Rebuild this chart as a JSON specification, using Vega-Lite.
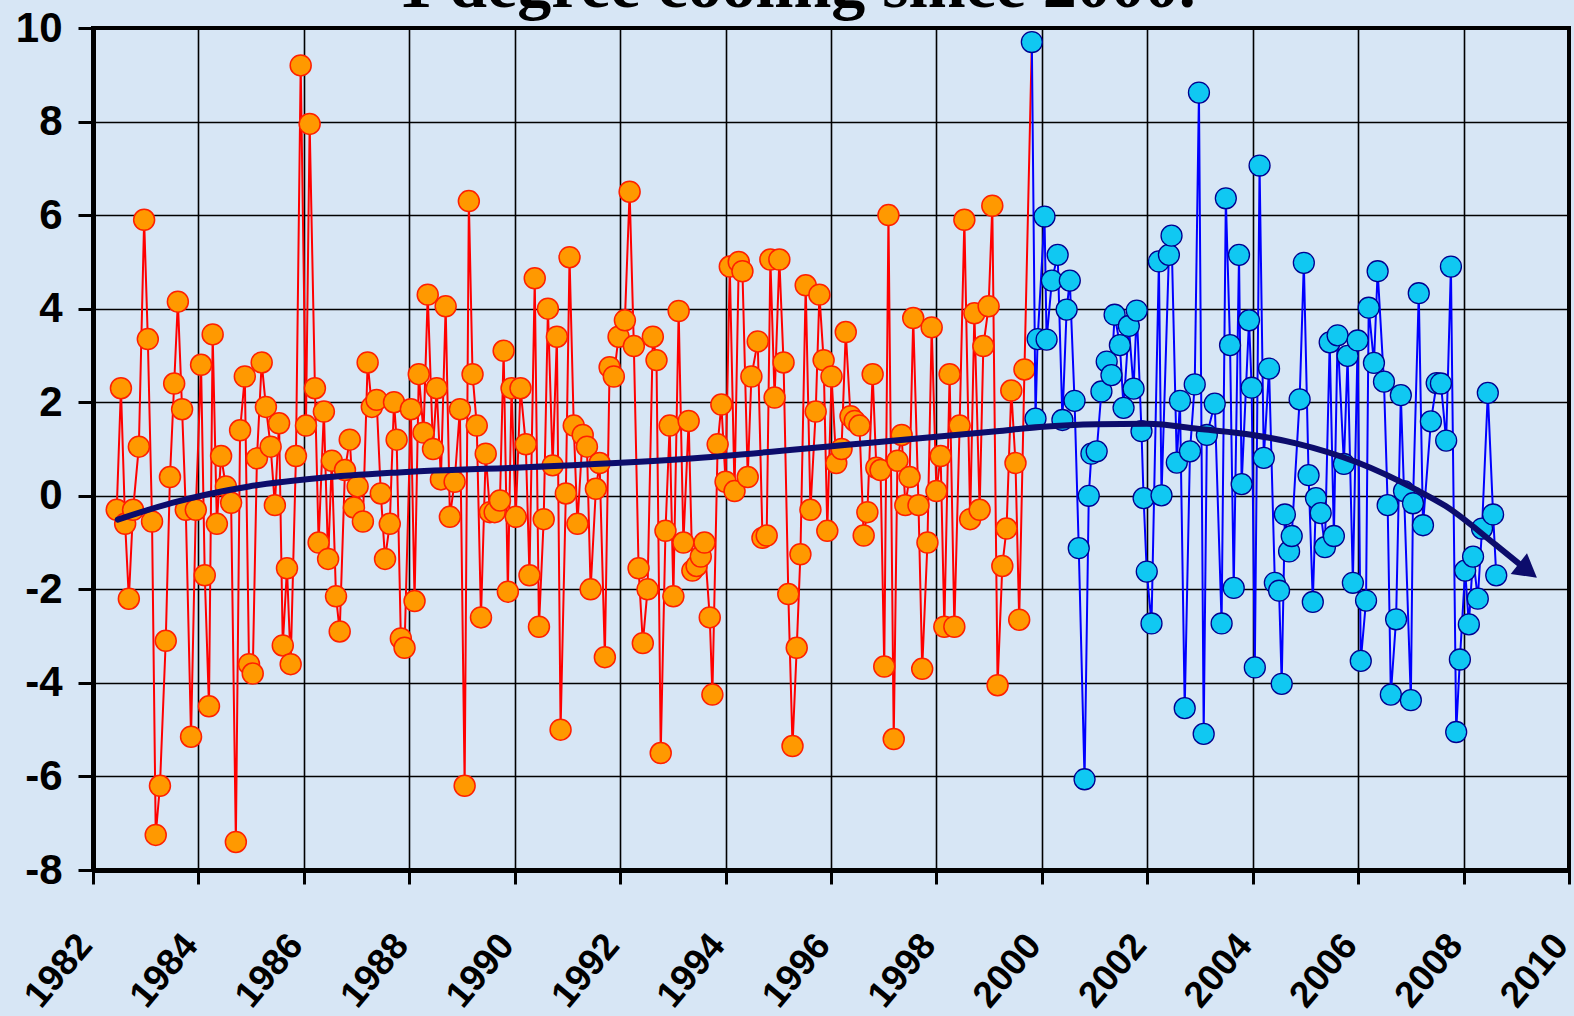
{
  "$schema": "https://vega.github.io/schema/vega-lite/v6.json",
  "width": 1476,
  "height": 842,
  "autosize": {"type": "none"},
  "padding": {"left": 93, "top": 28, "right": 5, "bottom": 146},
  "background": "#d7e6f5",
  "title": {
    "text": "1 degree cooling since 2000.",
    "font": "Liberation Serif",
    "fontWeight": "bold",
    "fontSize": 68,
    "color": "black",
    "anchor": "middle",
    "frame": "group",
    "baseline": "alphabetic",
    "offset": 0,
    "dy": 68,
    "dx": -34
  },
  "config": {
    "view": {"stroke": "black", "strokeWidth": 4, "fill": "#d7e6f5"},
    "axis": {
      "labelFont": "Liberation Sans",
      "labelFontWeight": "bold",
      "labelColor": "black",
      "domainColor": "black",
      "domainWidth": 5,
      "tickColor": "black",
      "tickWidth": 3,
      "grid": true,
      "gridColor": "black",
      "gridWidth": 1.6,
      "gridOpacity": 1,
      "title": null
    }
  },
  "datasets": {
    "obs": [
      {"t":1982.45,"v":-0.3,"s":"pre"},{"t":1982.53,"v":2.3,"s":"pre"},{"t":1982.61,"v":-0.6,"s":"pre"},{"t":1982.68,"v":-2.2,"s":"pre"},{"t":1982.76,"v":-0.3,"s":"pre"},{"t":1982.87,"v":1.05,"s":"pre"},{"t":1982.97,"v":5.9,"s":"pre"},{"t":1983.04,"v":3.35,"s":"pre"},{"t":1983.12,"v":-0.55,"s":"pre"},{"t":1983.19,"v":-7.25,"s":"pre"},{"t":1983.27,"v":-6.2,"s":"pre"},{"t":1983.38,"v":-3.1,"s":"pre"},{"t":1983.46,"v":0.4,"s":"pre"},{"t":1983.54,"v":2.4,"s":"pre"},{"t":1983.61,"v":4.15,"s":"pre"},{"t":1983.69,"v":1.85,"s":"pre"},{"t":1983.76,"v":-0.3,"s":"pre"},{"t":1983.86,"v":-5.15,"s":"pre"},{"t":1983.95,"v":-0.3,"s":"pre"},
      {"t":1984.05,"v":2.8,"s":"pre"},{"t":1984.12,"v":-1.7,"s":"pre"},{"t":1984.2,"v":-4.5,"s":"pre"},{"t":1984.27,"v":3.45,"s":"pre"},{"t":1984.35,"v":-0.6,"s":"pre"},{"t":1984.43,"v":0.85,"s":"pre"},{"t":1984.52,"v":0.2,"s":"pre"},{"t":1984.62,"v":-0.15,"s":"pre"},{"t":1984.71,"v":-7.4,"s":"pre"},{"t":1984.79,"v":1.4,"s":"pre"},{"t":1984.88,"v":2.55,"s":"pre"},{"t":1984.96,"v":-3.6,"s":"pre"},
      {"t":1985.03,"v":-3.8,"s":"pre"},{"t":1985.11,"v":0.8,"s":"pre"},{"t":1985.2,"v":2.85,"s":"pre"},{"t":1985.28,"v":1.9,"s":"pre"},{"t":1985.37,"v":1.05,"s":"pre"},{"t":1985.45,"v":-0.2,"s":"pre"},{"t":1985.53,"v":1.55,"s":"pre"},{"t":1985.6,"v":-3.2,"s":"pre"},{"t":1985.68,"v":-1.55,"s":"pre"},{"t":1985.75,"v":-3.6,"s":"pre"},{"t":1985.85,"v":0.85,"s":"pre"},{"t":1985.94,"v":9.2,"s":"pre"},
      {"t":1986.04,"v":1.5,"s":"pre"},{"t":1986.11,"v":7.95,"s":"pre"},{"t":1986.21,"v":2.3,"s":"pre"},{"t":1986.28,"v":-1.0,"s":"pre"},{"t":1986.38,"v":1.8,"s":"pre"},{"t":1986.46,"v":-1.35,"s":"pre"},{"t":1986.53,"v":0.75,"s":"pre"},{"t":1986.61,"v":-2.15,"s":"pre"},{"t":1986.68,"v":-2.9,"s":"pre"},{"t":1986.78,"v":0.55,"s":"pre"},{"t":1986.87,"v":1.2,"s":"pre"},{"t":1986.95,"v":-0.25,"s":"pre"},
      {"t":1987.02,"v":0.2,"s":"pre"},{"t":1987.12,"v":-0.55,"s":"pre"},{"t":1987.21,"v":2.85,"s":"pre"},{"t":1987.29,"v":1.9,"s":"pre"},{"t":1987.38,"v":2.05,"s":"pre"},{"t":1987.46,"v":0.05,"s":"pre"},{"t":1987.54,"v":-1.35,"s":"pre"},{"t":1987.63,"v":-0.6,"s":"pre"},{"t":1987.71,"v":2.0,"s":"pre"},{"t":1987.76,"v":1.2,"s":"pre"},{"t":1987.84,"v":-3.05,"s":"pre"},{"t":1987.91,"v":-3.25,"s":"pre"},
      {"t":1988.03,"v":1.85,"s":"pre"},{"t":1988.1,"v":-2.25,"s":"pre"},{"t":1988.18,"v":2.6,"s":"pre"},{"t":1988.27,"v":1.35,"s":"pre"},{"t":1988.35,"v":4.3,"s":"pre"},{"t":1988.45,"v":1.0,"s":"pre"},{"t":1988.52,"v":2.3,"s":"pre"},{"t":1988.6,"v":0.35,"s":"pre"},{"t":1988.69,"v":4.05,"s":"pre"},{"t":1988.77,"v":-0.45,"s":"pre"},{"t":1988.86,"v":0.3,"s":"pre"},{"t":1988.96,"v":1.85,"s":"pre"},
      {"t":1989.05,"v":-6.2,"s":"pre"},{"t":1989.13,"v":6.3,"s":"pre"},{"t":1989.2,"v":2.6,"s":"pre"},{"t":1989.28,"v":1.5,"s":"pre"},{"t":1989.36,"v":-2.6,"s":"pre"},{"t":1989.45,"v":0.9,"s":"pre"},{"t":1989.53,"v":-0.35,"s":"pre"},{"t":1989.62,"v":-0.35,"s":"pre"},{"t":1989.72,"v":-0.1,"s":"pre"},{"t":1989.79,"v":3.1,"s":"pre"},{"t":1989.87,"v":-2.05,"s":"pre"},{"t":1989.94,"v":2.3,"s":"pre"},
      {"t":1990.02,"v":-0.45,"s":"pre"},{"t":1990.11,"v":2.3,"s":"pre"},{"t":1990.21,"v":1.1,"s":"pre"},{"t":1990.28,"v":-1.7,"s":"pre"},{"t":1990.38,"v":4.65,"s":"pre"},{"t":1990.46,"v":-2.8,"s":"pre"},{"t":1990.55,"v":-0.5,"s":"pre"},{"t":1990.63,"v":4.0,"s":"pre"},{"t":1990.72,"v":0.65,"s":"pre"},{"t":1990.8,"v":3.4,"s":"pre"},{"t":1990.87,"v":-5.0,"s":"pre"},{"t":1990.97,"v":0.05,"s":"pre"},
      {"t":1991.04,"v":5.1,"s":"pre"},{"t":1991.12,"v":1.5,"s":"pre"},{"t":1991.19,"v":-0.6,"s":"pre"},{"t":1991.29,"v":1.3,"s":"pre"},{"t":1991.37,"v":1.05,"s":"pre"},{"t":1991.44,"v":-2.0,"s":"pre"},{"t":1991.54,"v":0.15,"s":"pre"},{"t":1991.61,"v":0.7,"s":"pre"},{"t":1991.71,"v":-3.45,"s":"pre"},{"t":1991.8,"v":2.75,"s":"pre"},{"t":1991.88,"v":2.55,"s":"pre"},{"t":1991.97,"v":3.4,"s":"pre"},
      {"t":1992.09,"v":3.75,"s":"pre"},{"t":1992.18,"v":6.5,"s":"pre"},{"t":1992.26,"v":3.2,"s":"pre"},{"t":1992.35,"v":-1.55,"s":"pre"},{"t":1992.43,"v":-3.15,"s":"pre"},{"t":1992.52,"v":-2.0,"s":"pre"},{"t":1992.62,"v":3.4,"s":"pre"},{"t":1992.69,"v":2.9,"s":"pre"},{"t":1992.77,"v":-5.5,"s":"pre"},{"t":1992.86,"v":-0.75,"s":"pre"},{"t":1992.94,"v":1.5,"s":"pre"},
      {"t":1993.01,"v":-2.15,"s":"pre"},{"t":1993.11,"v":3.95,"s":"pre"},{"t":1993.2,"v":-1.0,"s":"pre"},{"t":1993.3,"v":1.6,"s":"pre"},{"t":1993.37,"v":-1.6,"s":"pre"},{"t":1993.45,"v":-1.5,"s":"pre"},{"t":1993.53,"v":-1.3,"s":"pre"},{"t":1993.6,"v":-1.0,"s":"pre"},{"t":1993.7,"v":-2.6,"s":"pre"},{"t":1993.75,"v":-4.25,"s":"pre"},{"t":1993.85,"v":1.1,"s":"pre"},{"t":1993.92,"v":1.95,"s":"pre"},
      {"t":1994.0,"v":0.3,"s":"pre"},{"t":1994.08,"v":4.9,"s":"pre"},{"t":1994.17,"v":0.1,"s":"pre"},{"t":1994.25,"v":5.0,"s":"pre"},{"t":1994.32,"v":4.8,"s":"pre"},{"t":1994.42,"v":0.4,"s":"pre"},{"t":1994.49,"v":2.55,"s":"pre"},{"t":1994.61,"v":3.3,"s":"pre"},{"t":1994.7,"v":-0.9,"s":"pre"},{"t":1994.78,"v":-0.85,"s":"pre"},{"t":1994.85,"v":5.05,"s":"pre"},{"t":1994.93,"v":2.1,"s":"pre"},
      {"t":1995.02,"v":5.05,"s":"pre"},{"t":1995.1,"v":2.85,"s":"pre"},{"t":1995.19,"v":-2.1,"s":"pre"},{"t":1995.27,"v":-5.35,"s":"pre"},{"t":1995.35,"v":-3.25,"s":"pre"},{"t":1995.42,"v":-1.25,"s":"pre"},{"t":1995.52,"v":4.5,"s":"pre"},{"t":1995.61,"v":-0.3,"s":"pre"},{"t":1995.71,"v":1.8,"s":"pre"},{"t":1995.78,"v":4.3,"s":"pre"},{"t":1995.86,"v":2.9,"s":"pre"},{"t":1995.93,"v":-0.75,"s":"pre"},
      {"t":1996.01,"v":2.55,"s":"pre"},{"t":1996.1,"v":0.7,"s":"pre"},{"t":1996.2,"v":1.0,"s":"pre"},{"t":1996.28,"v":3.5,"s":"pre"},{"t":1996.37,"v":1.7,"s":"pre"},{"t":1996.45,"v":1.6,"s":"pre"},{"t":1996.54,"v":1.5,"s":"pre"},{"t":1996.62,"v":-0.85,"s":"pre"},{"t":1996.69,"v":-0.35,"s":"pre"},{"t":1996.79,"v":2.6,"s":"pre"},{"t":1996.86,"v":0.6,"s":"pre"},{"t":1996.94,"v":0.55,"s":"pre"},
      {"t":1997.01,"v":-3.65,"s":"pre"},{"t":1997.09,"v":6.0,"s":"pre"},{"t":1997.19,"v":-5.2,"s":"pre"},{"t":1997.26,"v":0.75,"s":"pre"},{"t":1997.34,"v":1.3,"s":"pre"},{"t":1997.41,"v":-0.2,"s":"pre"},{"t":1997.49,"v":0.4,"s":"pre"},{"t":1997.56,"v":3.8,"s":"pre"},{"t":1997.66,"v":-0.2,"s":"pre"},{"t":1997.73,"v":-3.7,"s":"pre"},{"t":1997.83,"v":-1.0,"s":"pre"},{"t":1997.91,"v":3.6,"s":"pre"},
      {"t":1998.0,"v":0.1,"s":"pre"},{"t":1998.08,"v":0.85,"s":"pre"},{"t":1998.15,"v":-2.8,"s":"pre"},{"t":1998.25,"v":2.6,"s":"pre"},{"t":1998.34,"v":-2.8,"s":"pre"},{"t":1998.44,"v":1.5,"s":"pre"},{"t":1998.53,"v":5.9,"s":"pre"},{"t":1998.64,"v":-0.5,"s":"pre"},{"t":1998.72,"v":3.9,"s":"pre"},{"t":1998.82,"v":-0.3,"s":"pre"},{"t":1998.89,"v":3.2,"s":"pre"},{"t":1998.99,"v":4.05,"s":"pre"},
      {"t":1999.06,"v":6.2,"s":"pre"},{"t":1999.16,"v":-4.05,"s":"pre"},{"t":1999.25,"v":-1.5,"s":"pre"},{"t":1999.33,"v":-0.7,"s":"pre"},{"t":1999.42,"v":2.25,"s":"pre"},{"t":1999.5,"v":0.7,"s":"pre"},{"t":1999.57,"v":-2.65,"s":"pre"},{"t":1999.67,"v":2.7,"s":"pre"},
      {"t":1999.81,"v":9.7,"s":"post"},{"t":1999.88,"v":1.65,"s":"post"},{"t":1999.92,"v":3.35,"s":"post"},{"t":2000.05,"v":5.97,"s":"post"},{"t":2000.09,"v":3.34,"s":"post"},{"t":2000.19,"v":4.6,"s":"post"},{"t":2000.3,"v":5.15,"s":"post"},{"t":2000.39,"v":1.62,"s":"post"},{"t":2000.47,"v":3.98,"s":"post"},{"t":2000.53,"v":4.6,"s":"post"},{"t":2000.62,"v":2.03,"s":"post"},{"t":2000.7,"v":-1.12,"s":"post"},{"t":2000.81,"v":-6.06,"s":"post"},{"t":2000.89,"v":0.0,"s":"post"},{"t":2000.94,"v":0.9,"s":"post"},
      {"t":2001.04,"v":0.95,"s":"post"},{"t":2001.13,"v":2.23,"s":"post"},{"t":2001.23,"v":2.87,"s":"post"},{"t":2001.32,"v":2.58,"s":"post"},{"t":2001.38,"v":3.87,"s":"post"},{"t":2001.48,"v":3.22,"s":"post"},{"t":2001.55,"v":1.88,"s":"post"},{"t":2001.65,"v":3.63,"s":"post"},{"t":2001.74,"v":2.29,"s":"post"},{"t":2001.8,"v":3.96,"s":"post"},{"t":2001.89,"v":1.38,"s":"post"},{"t":2001.93,"v":-0.05,"s":"post"},{"t":2001.99,"v":-1.62,"s":"post"},
      {"t":2002.08,"v":-2.73,"s":"post"},{"t":2002.22,"v":5.01,"s":"post"},{"t":2002.27,"v":0.01,"s":"post"},{"t":2002.41,"v":5.15,"s":"post"},{"t":2002.46,"v":5.56,"s":"post"},{"t":2002.56,"v":0.71,"s":"post"},{"t":2002.62,"v":2.03,"s":"post"},{"t":2002.71,"v":-4.54,"s":"post"},{"t":2002.81,"v":0.95,"s":"post"},{"t":2002.9,"v":2.38,"s":"post"},{"t":2002.98,"v":8.62,"s":"post"},
      {"t":2003.07,"v":-5.09,"s":"post"},{"t":2003.13,"v":1.3,"s":"post"},{"t":2003.28,"v":1.97,"s":"post"},{"t":2003.41,"v":-2.73,"s":"post"},{"t":2003.49,"v":6.36,"s":"post"},{"t":2003.57,"v":3.22,"s":"post"},{"t":2003.64,"v":-1.97,"s":"post"},{"t":2003.74,"v":5.15,"s":"post"},{"t":2003.79,"v":0.25,"s":"post"},{"t":2003.93,"v":3.75,"s":"post"},{"t":2003.98,"v":2.31,"s":"post"},
      {"t":2004.04,"v":-3.67,"s":"post"},{"t":2004.13,"v":7.06,"s":"post"},{"t":2004.21,"v":0.81,"s":"post"},{"t":2004.31,"v":2.72,"s":"post"},{"t":2004.42,"v":-1.86,"s":"post"},{"t":2004.5,"v":-2.03,"s":"post"},{"t":2004.55,"v":-4.02,"s":"post"},{"t":2004.61,"v":-0.4,"s":"post"},{"t":2004.69,"v":-1.19,"s":"post"},{"t":2004.74,"v":-0.86,"s":"post"},{"t":2004.89,"v":2.06,"s":"post"},{"t":2004.97,"v":4.98,"s":"post"},
      {"t":2005.06,"v":0.44,"s":"post"},{"t":2005.14,"v":-2.27,"s":"post"},{"t":2005.2,"v":-0.05,"s":"post"},{"t":2005.29,"v":-0.37,"s":"post"},{"t":2005.37,"v":-1.1,"s":"post"},{"t":2005.46,"v":3.28,"s":"post"},{"t":2005.54,"v":-0.86,"s":"post"},{"t":2005.61,"v":3.43,"s":"post"},{"t":2005.73,"v":0.68,"s":"post"},{"t":2005.8,"v":2.99,"s":"post"},{"t":2005.9,"v":-1.86,"s":"post"},{"t":2005.99,"v":3.32,"s":"post"},
      {"t":2006.05,"v":-3.53,"s":"post"},{"t":2006.15,"v":-2.24,"s":"post"},{"t":2006.2,"v":4.02,"s":"post"},{"t":2006.3,"v":2.84,"s":"post"},{"t":2006.37,"v":4.8,"s":"post"},{"t":2006.49,"v":2.44,"s":"post"},{"t":2006.56,"v":-0.2,"s":"post"},{"t":2006.62,"v":-4.25,"s":"post"},{"t":2006.72,"v":-2.64,"s":"post"},{"t":2006.81,"v":2.15,"s":"post"},{"t":2006.87,"v":0.1,"s":"post"},
      {"t":2007.0,"v":-4.37,"s":"post"},{"t":2007.04,"v":-0.16,"s":"post"},{"t":2007.15,"v":4.33,"s":"post"},{"t":2007.23,"v":-0.63,"s":"post"},{"t":2007.38,"v":1.59,"s":"post"},{"t":2007.49,"v":2.41,"s":"post"},{"t":2007.57,"v":2.4,"s":"post"},{"t":2007.67,"v":1.18,"s":"post"},{"t":2007.76,"v":4.9,"s":"post"},{"t":2007.86,"v":-5.05,"s":"post"},{"t":2007.93,"v":-3.5,"s":"post"},
      {"t":2008.03,"v":-1.6,"s":"post"},{"t":2008.1,"v":-2.75,"s":"post"},{"t":2008.18,"v":-1.3,"s":"post"},{"t":2008.27,"v":-2.2,"s":"post"},{"t":2008.35,"v":-0.7,"s":"post"},{"t":2008.46,"v":2.2,"s":"post"},{"t":2008.56,"v":-0.4,"s":"post"},{"t":2008.62,"v":-1.7,"s":"post"}
    ],
    "trend": [
      {"t":1982.47,"v":-0.51},{"t":1983.5,"v":-0.15},{"t":1984.96,"v":0.2},{"t":1986.3,"v":0.38},{"t":1987.8,"v":0.5},{"t":1990.64,"v":0.63},{"t":1993.47,"v":0.81},{"t":1996.31,"v":1.09},{"t":1999.14,"v":1.38},{"t":1999.96,"v":1.47},{"t":2001.04,"v":1.53},{"t":2001.99,"v":1.54},{"t":2003.05,"v":1.42},{"t":2004.0,"v":1.3},{"t":2004.82,"v":1.12},{"t":2005.99,"v":0.71},{"t":2007.1,"v":0.13},{"t":2007.66,"v":-0.22},{"t":2008.6,"v":-1.04},{"t":2009.05,"v":-1.45}
    ],
    "tip": [{"t":2009.22,"v":-1.6}]
  },
  "layer": [
    {
      "data": {"name": "obs"},
      "transform": [{"filter": "datum.s === 'pre' || datum.t < 1999.82"}],
      "mark": {"type": "line", "color": "#ff0000", "strokeWidth": 2},
      "encoding": {
        "x": {
          "field": "t", "type": "quantitative",
          "scale": {"domain": [1982, 2010], "nice": false, "zero": false},
          "axis": {
            "values": [1982,1984,1986,1988,1990,1992,1994,1996,1998,2000,2002,2004,2006,2008,2010],
            "format": "d",
            "labelAngle": -50,
            "labelAlign": "right",
            "labelBaseline": "middle",
            "labelFontSize": 37,
            "labelPadding": 55,
            "labelOffset": -8,
            "labelOverlap": false,
            "labelBound": false,
            "labelFlush": false,
            "tickSize": 14
          }
        },
        "y": {
          "field": "v", "type": "quantitative",
          "scale": {"domain": [-8, 10], "nice": false, "zero": false},
          "axis": {
            "values": [-8,-6,-4,-2,0,2,4,6,8,10],
            "labelExpr": "datum.value < 0 ? '-' + abs(datum.value) : '' + datum.value",
            "labelFontSize": 42,
            "labelPadding": 16,
            "tickSize": 15,
            "labelBound": false,
            "labelFlush": false,
            "labelOverlap": false
          }
        }
      }
    },
    {
      "data": {"name": "obs"},
      "transform": [{"filter": "datum.s === 'pre'"}],
      "mark": {"type": "point", "shape": "circle", "filled": true, "size": 440, "fill": "#ff9900", "stroke": "#ff2000", "strokeWidth": 1.5, "opacity": 1},
      "encoding": {
        "x": {"field": "t", "type": "quantitative"},
        "y": {"field": "v", "type": "quantitative"}
      }
    },
    {
      "data": {"name": "obs"},
      "transform": [{"filter": "datum.s === 'post'"}],
      "mark": {"type": "line", "color": "#0000ff", "strokeWidth": 2},
      "encoding": {
        "x": {"field": "t", "type": "quantitative"},
        "y": {"field": "v", "type": "quantitative"}
      }
    },
    {
      "data": {"name": "obs"},
      "transform": [{"filter": "datum.s === 'post'"}],
      "mark": {"type": "point", "shape": "circle", "filled": true, "size": 440, "fill": "#10c8f2", "stroke": "#000090", "strokeWidth": 1.3, "opacity": 1},
      "encoding": {
        "x": {"field": "t", "type": "quantitative"},
        "y": {"field": "v", "type": "quantitative"}
      }
    },
    {
      "data": {"name": "trend"},
      "mark": {"type": "line", "color": "#0c0c6c", "strokeWidth": 6, "interpolate": "monotone", "strokeCap": "round"},
      "encoding": {
        "x": {"field": "t", "type": "quantitative"},
        "y": {"field": "v", "type": "quantitative"}
      }
    },
    {
      "data": {"name": "tip"},
      "mark": {"type": "point", "shape": "triangle-right", "filled": true, "size": 700, "angle": 38, "color": "#0c0c6c", "opacity": 1},
      "encoding": {
        "x": {"field": "t", "type": "quantitative"},
        "y": {"field": "v", "type": "quantitative"}
      }
    }
  ]
}
